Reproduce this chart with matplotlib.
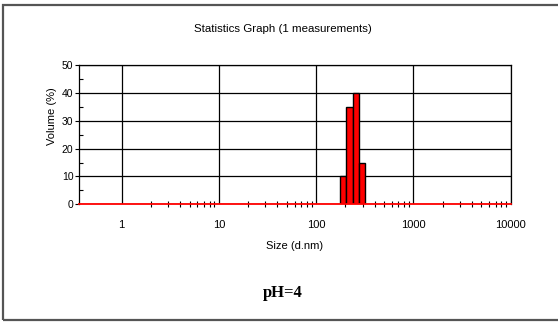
import numpy as np
import matplotlib.pyplot as plt
from matplotlib.patches import Rectangle
from matplotlib.ticker import FixedLocator, NullFormatter

# Size classes (d.nm) with non-zero volume and their volume %
sizes = [190.1, 220.2, 255.0, 295.3]
volume = [10.0, 35.0, 40.0, 15.0]
x_ticks = [1, 10, 100, 1000, 10000]
x_tick_labels = ["1", "10", "100", "1000", "10000"]
y_ticks = [0, 10, 20, 30, 40, 50]

plt.rcParams['font.family'] = ['Liberation Sans', 'DejaVu Sans']

fig = plt.figure(figsize=(5.58, 3.22), dpi=100)
ax = fig.add_axes([0.1416, 0.3655, 0.7736, 0.4326])

# bins are evenly spaced in log(size); edges sit at geometric midpoints
ratio = sizes[1] / sizes[0]
left = np.array(sizes) / np.sqrt(ratio)
right = np.array(sizes) * np.sqrt(ratio)
ax.bar(left, volume, width=right - left, align='edge',
       color='#ff0000', edgecolor='black', linewidth=1.0, zorder=3)
ax.axhline(0, color='#ff0000', lw=1.3, zorder=4, clip_on=False)

ax.set_xscale('log')
ax.set_xlim(0.364, 10000)
ax.set_ylim(0, 50)

# minor ticks only from the first decade upwards
minor_x = [m * 10 ** d for d in range(0, 4) for m in range(2, 10)]
ax.xaxis.set_major_locator(FixedLocator(x_ticks))
ax.set_xticklabels(x_tick_labels)
ax.xaxis.set_minor_locator(FixedLocator(minor_x))
ax.xaxis.set_minor_formatter(NullFormatter())
ax.set_yticks(y_ticks)
ax.set_yticks([5, 15, 25, 35, 45], minor=True)

ax.tick_params(axis='x', which='major', length=0, labelsize=8, pad=11, colors='black')
ax.tick_params(axis='x', which='minor', direction='inout', length=4, width=0.8, color='black')
ax.tick_params(axis='y', which='major', direction='out', length=3, labelsize=7.5, pad=1)
ax.tick_params(axis='y', which='minor', direction='in', length=3, width=0.8)

ax.grid(True, which='major', color='black', lw=0.9, zorder=1)
ax.set_axisbelow(True)
for side in ['left', 'top', 'right']:
    ax.spines[side].set_color('black')
    ax.spines[side].set_linewidth(0.9)
ax.spines['bottom'].set_visible(False)

ax.set_xlabel("Size (d.nm)", fontsize=8)
ax.xaxis.set_label_coords(0.5, -0.26)
ax.set_ylabel("Volume (%)", fontsize=8)
ax.yaxis.set_label_coords(-0.05, 0.63)

fig.text(0.507, 0.91, "Statistics Graph (1 measurements)", fontsize=8.25,
         ha='center', va='center')
fig.text(0.507, 0.09, "pH=4", fontsize=12, fontweight='bold',
         family=['Liberation Serif', 'DejaVu Serif'], ha='center', va='center')

# outer frame around the panel
fig.patches.append(Rectangle((3 / 558, 2 / 322), 1.0, 315 / 322,
                             transform=fig.transFigure, fill=False,
                             edgecolor='#555555', lw=1.6))

fig.savefig("out.png", dpi=100)
